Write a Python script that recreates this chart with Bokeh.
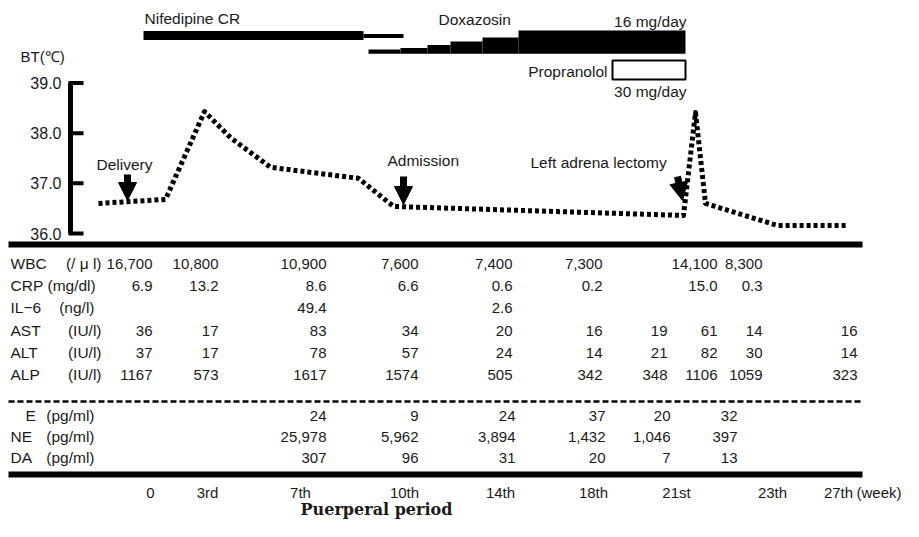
from bokeh.plotting import figure
from bokeh.models import Range1d, Arrow, NormalHead
from bokeh.core.properties import value
from bokeh.embed import file_html
from bokeh.resources import INLINE

# ---------------- data ----------------
week_labels = ["0", "3rd", "7th", "10th", "14th", "18th", "21st", "23th", "27th"]

# body temperature (deg C), with its time position
bt_time = [98, 165, 204, 230, 270, 358, 393, 683, 695, 705, 777, 848]
bt_temp = [36.60, 36.68, 38.43, 37.91, 37.32, 37.10, 36.54, 36.36, 38.41, 36.60, 36.16, 36.16]
bt_ticks = [36.0, 37.0, 38.0, 39.0]

wbc = [16700, 10800, 10900, 7600, 7400, 7300, None, 14100, 8300, None]
crp = [6.9, 13.2, 8.6, 6.6, 0.6, 0.2, None, 15.0, 0.3, None]
il6 = [None, None, 49.4, None, 2.6, None, None, None, None, None]
ast = [36, 17, 83, 34, 20, 16, 19, 61, 14, 16]
alt = [37, 17, 78, 57, 24, 14, 21, 82, 30, 14]
alp = [1167, 573, 1617, 1574, 505, 342, 348, 1106, 1059, 323]
epi = [None, None, 24, 9, 24, 37, 20, 32, None, None]
ne = [None, None, 25978, 5962, 3894, 1432, 1046, 397, None, None]
da = [None, None, 307, 96, 31, 20, 7, 13, None, None]

lab_names = ["WBC", "CRP", "IL\u22126", "AST", "ALT", "ALP"]
lab_units = ["(/ \u03bc l)", "(mg/dl)", "(ng/l)", "(IU/l)", "(IU/l)", "(IU/l)"]
cat_names = ["E", "NE", "DA"]
cat_units = ["(pg/ml)", "(pg/ml)", "(pg/ml)"]

drug_labels = ["Nifedipine CR", "Doxazosin", "Propranolol"]
dose_labels = ["16 mg/day", "30 mg/day"]
event_labels = ["Delivery", "Admission", "Left adrena lectomy"]

nifedipine_start = [143, 363]
nifedipine_end = [363, 403]
doxazosin_start = [368, 400, 427, 450, 482, 518]
doxazosin_end = 685

# ---------------- figure (reference pixel space) ----------------
W, H = 903, 521
FONT = value("Liberation Sans")
FS = "15px"
LFS = "15.5px"
INK = "#1a1a1a"

p = figure(width=W, height=H, x_range=Range1d(0, W), y_range=Range1d(H, 0),
           x_axis_type=None, y_axis_type=None, output_backend="svg",
           toolbar_location=None, min_border=0)
p.grid.visible = False
p.outline_line_color = None
p.background_fill_color = "white"
p.border_fill_color = "white"

# temperature scale on the same canvas
t0, ty0, tslope = 37.5, 157.75, 50.2
p.extra_y_ranges = {"bt": Range1d(t0 - (H - ty0) / tslope, t0 + ty0 / tslope)}

# ---- drug bars ----
p.quad(left=[nifedipine_start[0]], right=[nifedipine_end[0]], top=[30.5], bottom=[39.5],
       fill_color="black", line_color=None)
p.quad(left=[nifedipine_start[1]], right=[nifedipine_end[1]], top=[33.5], bottom=[37.5],
       fill_color="black", line_color=None)
dox_tops = [49, 47.5, 44.5, 41, 37, 30]
dox_right = doxazosin_start[1:] + [doxazosin_end]
p.quad(left=doxazosin_start, right=dox_right, top=dox_tops, bottom=[53.3] * 6,
       fill_color="black", line_color=None)
p.quad(left=[612], right=[685], top=[60], bottom=[79], fill_color="white",
       line_color="black", line_width=2)


def txt(x, y, s, align="left", size=FS, font=FONT, style="normal", yr="default"):
    p.text(x=[x], y=[y], text=[s], text_align=align, text_baseline="middle",
           text_font=font, text_font_size=size, text_font_style=style,
           text_color=INK, y_range_name=yr)


txt(144, 18, drug_labels[0], size=LFS)
txt(438, 19, drug_labels[1], size=LFS)
txt(686, 21, dose_labels[0], "right", size=LFS)
txt(607, 71, drug_labels[2], "right", size=LFS)
txt(686, 91, dose_labels[1], "right", size=LFS)

# ---- BT axis ----
txt(20, 56, "BT(\u2103)")
p.segment(x0=[70], y0=[bt_ticks[0]], x1=[70], y1=[bt_ticks[-1]], line_width=5,
          line_color="black", y_range_name="bt")
p.segment(x0=[68] * 4, y0=bt_ticks, x1=[83] * 4, y1=bt_ticks, line_width=4,
          line_color="black", y_range_name="bt")
for t in bt_ticks:
    txt(61, t, f"{t:.1f}", "right", size="16px", yr="bt")

# ---- temperature curve ----
p.line(bt_time, bt_temp, y_range_name="bt", line_width=5, line_dash="4 3",
       line_color="black", line_cap="butt", line_join="round")

# ---- event arrows ----
for (x0, y0, x1, y1) in [(127, 174, 127, 200), (403, 176, 403, 204), (677, 176, 682, 200)]:
    p.add_layout(Arrow(x_start=x0, y_start=y0, x_end=x1, y_end=y1, line_width=7,
                       line_color="black",
                       end=NormalHead(size=18, fill_color="black", line_color="black", line_width=1)))
txt(96, 164, event_labels[0], size=LFS)
txt(387, 160, event_labels[1], size=LFS)
txt(530, 162, event_labels[2], size=LFS)

# ---- table ----
p.segment(x0=[8, 8], y0=[244, 474], x1=[862, 862], y1=[244, 474], line_width=6, line_color="black")
p.segment(x0=[8], y0=[401], x1=[862], y1=[401], line_width=2.5, line_color="black", line_dash="6 3")

lab_rows_y = [263, 285, 307, 330, 352, 374]
cat_rows_y = [415, 436, 457]
lab_col_x = [152, 218, 326, 418, 512, 602, 667, 717, 762, 857]
cat_col_x = [152, 218, 326, 418, 515, 605, 670, 737, 762, 857]

fmt_comma = lambda v: f"{v:,}"
fmt_1 = lambda v: f"{v:.1f}"
fmt_i = lambda v: f"{v}"
lab_rows = [(wbc, fmt_comma), (crp, fmt_1), (il6, fmt_1), (ast, fmt_i), (alt, fmt_i), (alp, fmt_i)]
cat_rows = [(epi, fmt_i), (ne, fmt_comma), (da, fmt_i)]

# unit anchors: (x, alignment)
lab_unit_pos = [(101, "right"), (47, "left"), (94, "right"), (101, "right"), (101, "right"), (101, "right")]
for name, unit, y, (ux, ua) in zip(lab_names, lab_units, lab_rows_y, lab_unit_pos):
    txt(10, y, name, size=LFS)
    txt(ux, y, unit, ua, size=LFS)
cat_name_x = [25, 10, 10]
for name, unit, y, nx in zip(cat_names, cat_units, cat_rows_y, cat_name_x):
    txt(nx, y, name, size=LFS)
    txt(94, y, unit, "right", size=LFS)


def put_rows(rows, ys, cols):
    xs, yy, tt = [], [], []
    for (vals, f), y in zip(rows, ys):
        for v, x in zip(vals, cols):
            if v is not None:
                xs.append(x); yy.append(y); tt.append(f(v))
    p.text(x=xs, y=yy, text=tt, text_align="right", text_baseline="middle",
           text_font=FONT, text_font_size=FS, text_color=INK)


put_rows(lab_rows, lab_rows_y, lab_col_x)
put_rows(cat_rows, cat_rows_y, cat_col_x)

week_x = [150, 207, 300, 404, 500, 593, 676, 772, 838]
p.text(x=week_x, y=[492] * len(week_x), text=week_labels, text_align="center",
       text_baseline="middle", text_font=FONT, text_font_size=FS, text_color=INK)
txt(856, 492, "(week)")
txt(376, 509, "Puerperal period", "center", size="16px", font=value("DejaVu Serif"), style="bold")

open("out.html", "w").write(file_html(p, INLINE))
